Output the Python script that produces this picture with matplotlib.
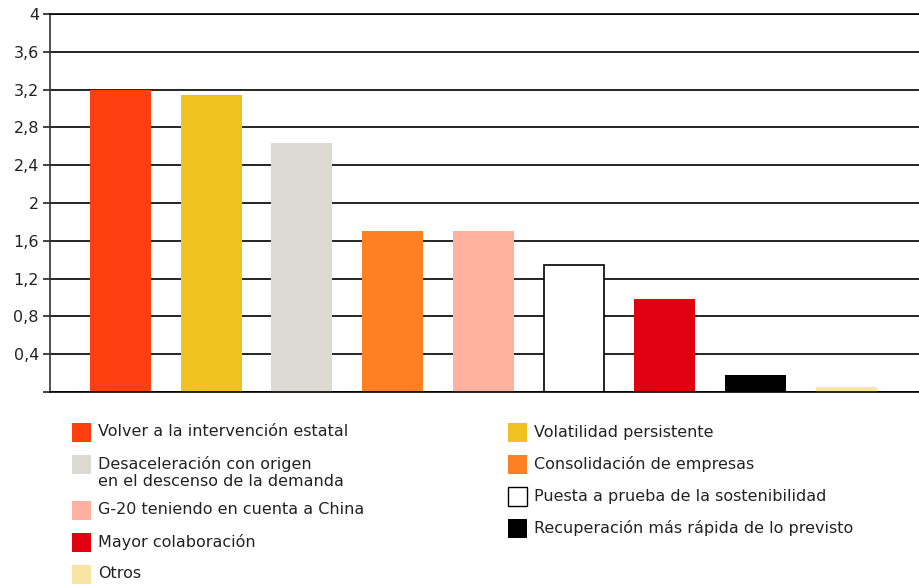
import matplotlib.pyplot as plt
from matplotlib.patches import Rectangle

plt.rcParams['font.family'] = ['DejaVu Sans']
plt.rcParams['font.size'] = 10

# ---------- data ----------
categories = [
    'Volver a la intervención estatal',
    'Volatilidad persistente',
    'Desaceleración con origen\nen el descenso de la demanda',
    'Consolidación de empresas',
    'G-20 teniendo en cuenta a China',
    'Puesta a prueba de la sostenibilidad',
    'Mayor colaboración',
    'Recuperación más rápida de lo previsto',
    'Otros',
]
values = [3.2, 3.14, 2.63, 1.7, 1.7, 1.34, 0.98, 0.18, 0.05]
colors = ['#ff3f0f', '#f0c220', '#dddad3', '#ff8022', '#ffb1a0',
          '#ffffff', '#e0000f', '#000000', '#f8e4a4']
edges = ['none', 'none', 'none', 'none', 'none',
         '#000000', 'none', 'none', 'none']
y_ticks = [0, 0.4, 0.8, 1.2, 1.6, 2, 2.4, 2.8, 3.2, 3.6, 4]
y_tick_labels = ['', '0,4', '0,8', '1,2', '1,6', '2', '2,4', '2,8', '3,2', '3,6', '4']

W, H = 920, 586
fig = plt.figure(figsize=(W / 100, H / 100), dpi=100)
ax = fig.add_axes([50 / W, (H - 392) / H, 870 / W, 378 / H])

x = list(range(len(values)))
ax.bar(x, values, width=0.672, color=colors, edgecolor=edges,
       linewidth=1.2, zorder=3)

ax.set_xlim(-0.777, 8.815)
ax.set_ylim(0, 4)
ax.set_yticks(y_ticks)
ax.set_yticklabels(y_tick_labels)
ax.tick_params(axis='y', length=5, width=1.2, color='#222222',
               pad=3, labelsize=11.5, labelcolor='#222222')
ax.set_xticks([])
ax.yaxis.grid(True, color='#000000', linewidth=1.2, zorder=1)
ax.set_axisbelow(True)
for side in ['top', 'right', 'bottom']:
    ax.spines[side].set_visible(False)
ax.spines['left'].set_color('#333333')
ax.spines['left'].set_linewidth(1.2)
ax.axhline(0, color='#000000', linewidth=1.2, zorder=4, clip_on=False)
ax.axhline(4, color='#000000', linewidth=1.2, zorder=4, clip_on=False)

# ---------- legend, two columns ----------
def draw_legend(idx_list, x_px, y0_px):
    y = y0_px
    for i in idx_list:
        box = 19
        fig.add_artist(Rectangle(((x_px) / W, (H - y - box / 2) / H),
                                 box / W, box / H, transform=fig.transFigure,
                                 facecolor=colors[i],
                                 edgecolor='#000000' if edges[i] != 'none' else 'none',
                                 linewidth=1.0))
        fig.text((x_px + box + 7) / W, (H - y + 7.5) / H, categories[i],
                 ha='left', va='top', fontsize=11.5, color='#222222',
                 linespacing=1.1)
        nlines = categories[i].count('\n') + 1
        y += 32 + 14 * (nlines - 1)

draw_legend([0, 2, 4, 6, 8], 72, 432)
draw_legend([1, 3, 5, 7], 508, 432)

fig.savefig('out.png', dpi=100)
